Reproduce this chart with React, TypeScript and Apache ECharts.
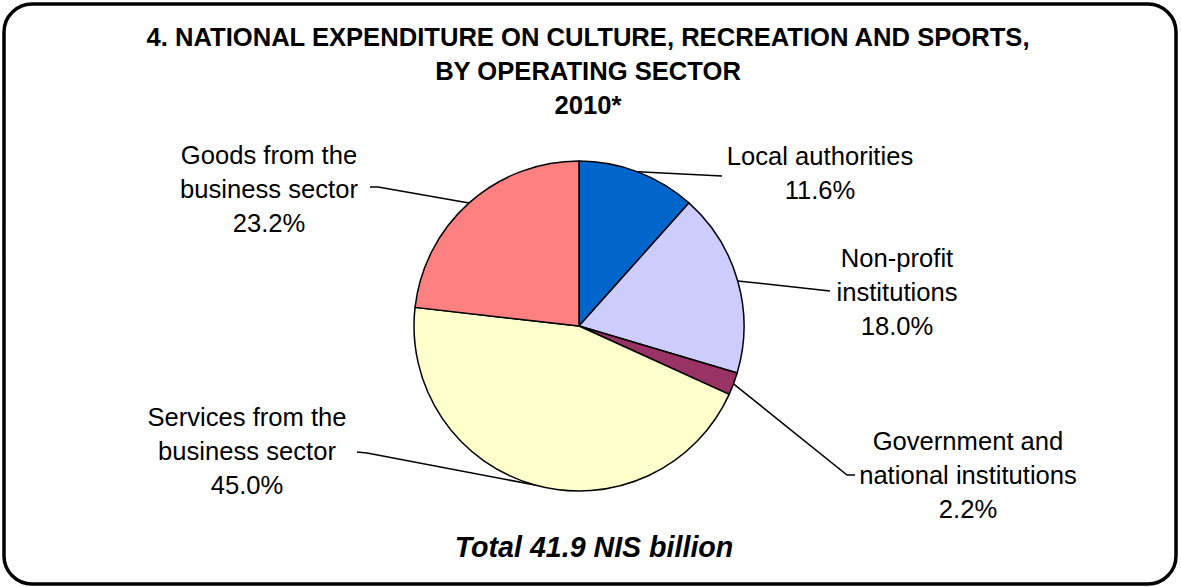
import React, { useEffect, useRef } from "react";
import * as echarts from "echarts";

const categories = [
  "Local authorities",
  "Non-profit\ninstitutions",
  "Government and\nnational institutions",
  "Services from the\nbusiness sector",
  "Goods from the\nbusiness sector",
];
const shares = [11.6, 18.0, 2.2, 45.0, 23.2];
const sliceColors = ["#0066CC", "#CCCCFF", "#993366", "#FFFFCC", "#FF8080"];
const titleLines = [
  "4. NATIONAL EXPENDITURE ON CULTURE, RECREATION AND SPORTS,",
  "BY OPERATING SECTOR",
  "2010*",
];
const totalText = "Total 41.9 NIS billion";

// label anchors (text block centre) and leader-line bends
const labelPos: number[][] = [
  [820, 173],
  [897, 292],
  [968, 475],
  [247, 451],
  [269, 189],
];
const leaderBends: number[][][] = [
  [[722, 176]],
  [[830, 291]],
  [[847, 475], [855, 475]],
  [[367, 453], [357, 452]],
  [[378, 187], [370, 187]],
];

export default function App() {
  const ref = useRef<HTMLDivElement>(null);
  useEffect(() => {
    if (!ref.current) return;
    const chart = echarts.init(ref.current, null, { renderer: "svg" });
    const font = "Liberation Sans, Arial, sans-serif";
    chart.setOption({
      animation: false,
      backgroundColor: "#ffffff",
      title: {
        text: titleLines.join("\n"),
        left: 588,
        top: 20,
        textAlign: "center",
        padding: 0,
        textStyle: {
          fontFamily: font,
          fontSize: 25.6,
          fontWeight: "bold",
          color: "#000",
          lineHeight: 34,
          align: "center",
        },
      },
      graphic: [
        {
          type: "rect",
          shape: { x: 4, y: 4, width: 1172, height: 580, r: 28 },
          style: { fill: "none", stroke: "#000", lineWidth: 3.5 },
          z: 100,
        },
        {
          type: "text",
          x: 594,
          y: 547,
          style: {
            text: totalText,
            fontFamily: font,
            fontSize: 28.6,
            fontWeight: "bold",
            fontStyle: "italic",
            fill: "#000",
            textAlign: "center",
            textVerticalAlign: "middle",
          },
        },
      ],
      series: [
        {
          type: "pie",
          center: [579, 326],
          radius: 165,
          startAngle: 90,
          clockwise: true,
          avoidLabelOverlap: false,
          data: categories.map((c, i) => ({
            name: c,
            value: shares[i],
            itemStyle: { color: sliceColors[i] },
          })),
          itemStyle: { borderColor: "#000", borderWidth: 1.5 },
          label: {
            show: true,
            position: "outside",
            formatter: (p: any) => `${p.name}\n${Number(p.value).toFixed(1)}%`,
            fontFamily: font,
            fontSize: 25.6,
            lineHeight: 34,
            color: "#000",
            align: "center",
          },
          labelLine: {
            show: true,
            length: 20,
            length2: 20,
            smooth: false,
            lineStyle: { color: "#000", width: 1.5 },
          },
          labelLayout: (params: any) => {
            const i = params.dataIndex;
            const p0 = params.labelLinePoints ? params.labelLinePoints[0] : null;
            const out: any = {
              x: labelPos[i][0],
              y: labelPos[i][1],
              align: "center",
              verticalAlign: "middle",
            };
            if (p0) out.labelLinePoints = [p0, ...leaderBends[i]];
            return out;
          },
          emphasis: { disabled: true },
        },
      ],
    });
    return () => chart.dispose();
  }, []);
  return (
    <div
      ref={ref}
      style={{ position: "fixed", left: 0, top: 0, width: 1181, height: 587 }}
    />
  );
}
